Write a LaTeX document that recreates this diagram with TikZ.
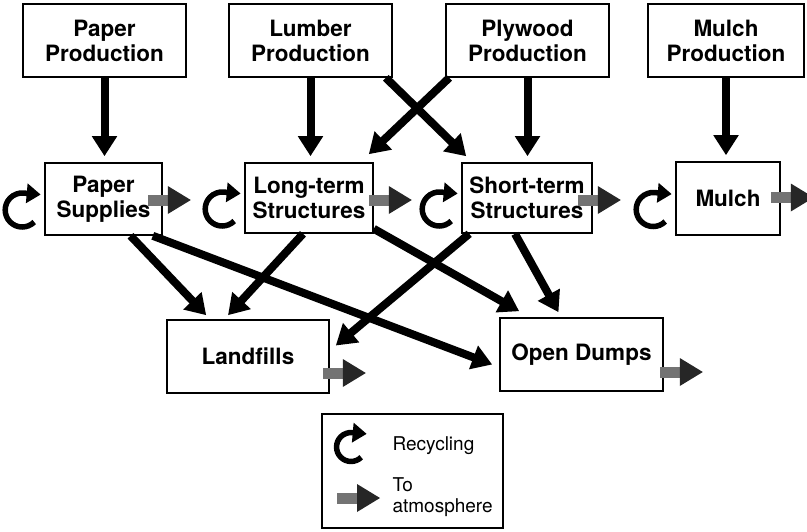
\documentclass[tikz,border=0pt]{standalone}
\usepackage{fontspec}
\setmainfont{TeX Gyre Heros}
\usetikzlibrary{positioning, calc}
\usetikzlibrary{arrows, arrows.meta}

\begin{document}
\begin{tikzpicture}[x=1pt, y=-1pt,
  box/.style={draw, line width=1.6pt, fill=white, inner sep=0pt, align=center,
    minimum height=73pt, font=\bfseries\fontsize{22.5}{25}\selectfont},
  flow/.style={line width=8pt, -{Triangle[width=24pt,length=20pt]}},
  recycle/.pic={\draw[line width=5.5pt, -{Triangle[width=19pt,length=14pt]}]
    (45:17) arc[start angle=45, end angle=275, radius=17] -- ++(17,1.5);},
  atmo/.pic={\fill[black!55] (0,-5.5) rectangle (22,5.5);
    \fill[black!85] (20,-14) -- (43,0) -- (20,14) -- cycle;}]
  \useasboundingbox (0,0) rectangle (807,531);
  % sources
  \node[box, minimum width=163pt] (ppaper)   at (104.5,40.5) {Paper\\Production};
  \node[box, minimum width=163pt] (plumber)  at (310.5,40.5) {Lumber\\Production};
  \node[box, minimum width=163pt] (pplywood) at (527.5,40.5) {Plywood\\Production};
  \node[box, minimum width=156pt] (pmulch)   at (726,40.5)   {Mulch\\Production};
  % products in use
  \node[box, minimum width=117pt, minimum height=72pt] (supplies)  at (103.5,199) {Paper\\Supplies};
  \node[box, minimum width=128pt, minimum height=70pt] (longterm)  at (309,198)   {Long-term\\Structures};
  \node[box, minimum width=130pt, minimum height=70pt] (shortterm) at (527,198)   {Short-term\\Structures};
  \node[box, minimum width=104pt] (mulch) at (728,198.5) {Mulch};
  % disposal
  \node[box, minimum width=162pt] (landfill) at (248,356.5)   {Landfills};
  \node[box, minimum width=163pt] (dumps)    at (581.5,354.5) {Open Dumps};

  \draw[flow] (ppaper.south) -- ([yshift=6pt]ppaper.south |- supplies.north);
  \draw[flow] (plumber.south) -- ([yshift=6pt]plumber.south |- longterm.north);
  \draw[flow] (pplywood.south) -- ([yshift=6pt]pplywood.south |- shortterm.north);
  \draw[flow] (pmulch.south) -- ([yshift=6pt]pmulch.south |- mulch.north);
  \draw[flow] ([shift={(-7,0)}]plumber.south east) -- ([shift={(5,-6)}]shortterm.north west);
  \draw[flow] ([shift={(4,0)}]pplywood.south west) -- ([shift={(-5,-8)}]longterm.north east);

  \draw[flow] ([shift={(27,0)}]supplies.south) -- ([shift={(40,-4)}]landfill.north west);
  \draw[flow] ([shift={(-10,0)}]supplies.south east) -- ([shift={(-7,10)}]dumps.west);
  \draw[flow] ([shift={(-6,0)}]longterm.south) -- ([shift={(-20,-4)}]landfill.north);
  \draw[flow] ([shift={(0,-5)}]longterm.south east) -- ([shift={(20,-6)}]dumps.north west);
  \draw[flow] ([shift={(8,0)}]shortterm.south west) -- ([shift={(6,-11)}]landfill.east);
  \draw[flow] ([shift={(-12,0)}]shortterm.south) -- ([shift={(-23,-5)}]dumps.north);

  \foreach \n in {supplies, longterm, shortterm, mulch}
    \pic at ([shift={(-22,11)}]\n.west) {recycle};
  \foreach \n/\dx/\dy in {supplies/-15/1, longterm/-5/2, shortterm/-15/2,
      mulch/-10/-1, landfill/-7/16.5, dumps/-4/17.5}
    \pic at ([shift={(\dx,\dy)}]\n.east) {atmo};

  % key
  \node[draw, line width=1.6pt, minimum width=181pt, minimum height=114pt] (legend) at (412.5,471) {};
  \pic[scale=0.85] at (351,447) {recycle};
  \node[anchor=west, font=\fontsize{19}{21}\selectfont] (lrecycle) at (389,446) {Recycling};
  \pic at (337,498) {atmo};
  \node[anchor=west, align=left, font=\fontsize{19}{21}\selectfont] (latmo) at (389,497) {To\\atmosphere};
\end{tikzpicture}
\end{document}
